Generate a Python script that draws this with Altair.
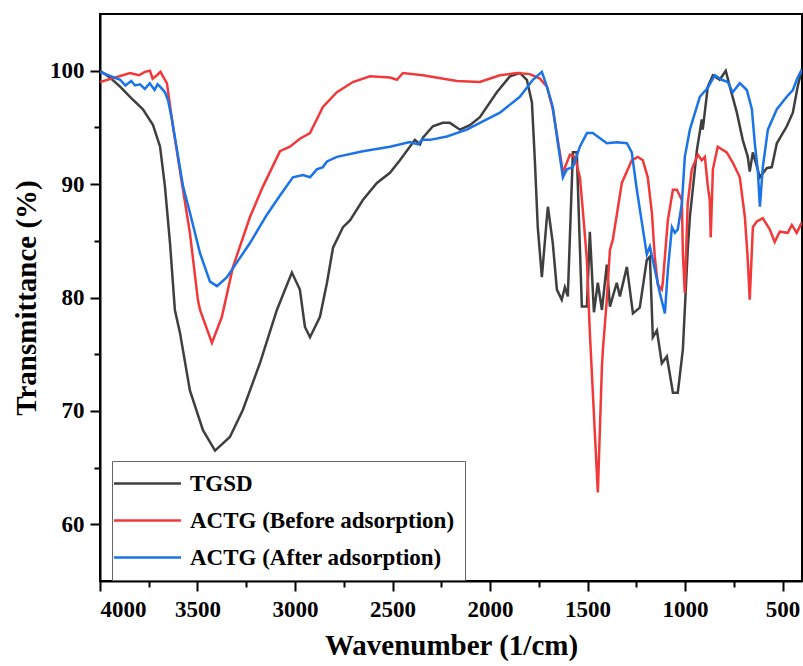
import altair as alt
import pandas as pd

series_names = ["TGSD", "ACTG (Before adsorption)", "ACTG (After adsorption)"]
series_colors = ["#3f3f3f", "#f2393a", "#1a73e8"]

tg_wn = [4000, 3949, 3897, 3846, 3780, 3728, 3692, 3667, 3641, 3616, 3590, 3539, 3472, 3410, 3334, 3267, 3180, 3093,
         3016, 2975, 2949, 2923, 2872, 2836, 2805, 2754, 2718, 2652, 2580, 2513, 2462, 2385, 2359, 2344, 2293, 2242,
         2206, 2154, 2103, 2052, 1965, 1898, 1847, 1811, 1785, 1770, 1755, 1734, 1708, 1703, 1678, 1657, 1632, 1616,
         1601, 1575, 1555, 1529, 1503, 1488, 1467, 1447, 1426, 1401, 1385, 1350, 1334, 1298, 1267, 1232, 1196, 1180,
         1165, 1144, 1119, 1093, 1062, 1037, 1011, 986, 975, 939, 914, 909, 883, 857, 822, 791, 770, 734, 704, 678,
         668, 652, 616, 581, 555, 529, 478, 447, 422, 401]
tg_t = [100.0, 99.4, 98.6, 97.7, 96.6, 95.2, 93.3, 89.8, 84.8, 78.9, 76.9, 71.8, 68.3, 66.5, 67.7, 70.1, 74.2, 78.9,
        82.2, 80.7, 77.4, 76.5, 78.3, 81.3, 84.4, 86.2, 86.8, 88.6, 90.1, 91.0, 92.1, 93.9, 93.5, 94.1, 95.1, 95.4,
        95.4, 94.8, 95.2, 95.9, 98.1, 99.5, 99.8, 99.2, 97.2, 92.1, 86.2, 81.8, 87.1, 88.0, 84.8, 80.7, 79.8, 80.9,
        80.1, 92.8, 92.8, 79.2, 79.2, 85.8, 78.7, 81.3, 78.9, 82.9, 79.2, 81.3, 80.1, 82.7, 78.6, 79.1, 83.3, 83.6,
        76.5, 77.1, 74.2, 74.8, 71.6, 71.6, 75.4, 84.2, 87.1, 93.0, 95.7, 94.8, 98.6, 99.6, 99.2, 100.0, 98.6, 96.3,
        93.9, 92.4, 91.1, 92.8, 90.6, 91.4, 91.5, 93.6, 95.1, 96.3, 98.6, 100.1]

rd_wn = [4000, 3846, 3800, 3770, 3744, 3730, 3708, 3690, 3677, 3657, 3626, 3580, 3539, 3498, 3487, 3426, 3375, 3318,
         3231, 3164, 3077, 3026, 2975, 2923, 2857, 2785, 2703, 2616, 2513, 2477, 2447, 2344, 2170, 2052, 1949, 1862,
         1796, 1744, 1708, 1678, 1642, 1626, 1590, 1565, 1539, 1524, 1503, 1488, 1447, 1426, 1421, 1401, 1385, 1370,
         1324, 1273, 1242, 1216, 1191, 1170, 1155, 1139, 1119, 1114, 1088, 1062, 1042, 1016, 1011, 1001, 986, 965,
         934, 914, 898, 883, 873, 868, 857, 832, 786, 755, 719, 693, 678, 668, 652, 632, 601, 565, 540, 514, 473,
         452, 427, 401]
rd_t = [99.0, 99.8, 99.6, 99.9, 100.0, 99.3, 99.6, 99.9, 99.5, 98.9, 95.1, 90.1, 85.7, 79.8, 78.9, 76.0, 78.3, 82.7,
        87.1, 89.8, 92.9, 93.3, 94.0, 94.5, 96.8, 98.1, 99.0, 99.5, 99.4, 99.2, 99.8, 99.6, 99.1, 99.0, 99.6, 99.8,
        99.7, 99.3, 98.6, 96.6, 92.8, 91.0, 92.6, 92.4, 90.6, 87.7, 83.3, 76.9, 62.8, 73.9, 75.4, 79.8, 84.2, 85.1,
        90.1, 92.1, 92.4, 92.1, 90.6, 87.5, 83.6, 81.1, 80.7, 81.3, 86.8, 89.5, 89.5, 88.6, 83.9, 80.4, 88.3, 91.3,
        92.6, 92.1, 92.4, 89.8, 88.6, 85.3, 91.3, 93.3, 92.8, 91.9, 90.6, 87.1, 83.3, 79.8, 86.2, 86.7, 87.0, 86.0,
        84.9, 85.8, 85.7, 86.4, 85.7, 86.6]

bl_wn = [4000, 3897, 3870, 3840, 3820, 3795, 3770, 3745, 3720, 3705, 3692, 3667, 3651, 3631, 3605, 3574, 3539, 3487,
         3436, 3400, 3349, 3298, 3231, 3144, 3077, 3011, 2959, 2923, 2888, 2857, 2836, 2785, 2652, 2513, 2411, 2370,
         2349, 2308, 2221, 2119, 2052, 1949, 1847, 1780, 1734, 1708, 1678, 1652, 1626, 1606, 1575, 1539, 1503, 1473,
         1401, 1350, 1298, 1273, 1247, 1221, 1196, 1180, 1165, 1129, 1103, 1088, 1067, 1052, 1037, 1016, 1001, 975,
         924, 883, 847, 811, 781, 755, 719, 683, 657, 642, 627, 616, 601, 575, 529, 478, 447, 422, 401]
bl_t = [99.9, 99.2, 98.7, 99.1, 98.7, 98.8, 98.4, 98.9, 98.3, 98.8, 98.6, 98.1, 97.4, 95.7, 93.0, 89.8, 87.5, 83.9,
        81.4, 81.0, 81.8, 83.1, 84.8, 87.3, 89.0, 90.6, 90.8, 90.6, 91.3, 91.5, 92.0, 92.4, 92.9, 93.3, 93.7, 93.5,
        93.9, 93.9, 94.2, 94.8, 95.4, 96.3, 97.7, 99.2, 99.9, 98.6, 96.8, 93.6, 90.6, 91.3, 91.5, 93.3, 94.5, 94.5,
        93.6, 93.7, 93.6, 92.8, 89.5, 86.6, 83.8, 84.5, 83.3, 80.4, 78.6, 82.4, 86.2, 85.7, 86.0, 88.3, 92.4, 94.8,
        97.7, 98.5, 99.6, 99.2, 99.0, 98.1, 98.9, 98.3, 96.6, 93.6, 91.3, 88.0, 91.5, 94.8, 96.6, 97.7, 98.3, 99.4,
        100.1]

x_major = [4000, 3500, 3000, 2500, 2000, 1500, 1000, 500]
x_minor = [3750, 3250, 2750, 2250, 1750, 1250, 750]
y_major = [60, 70, 80, 90, 100]
y_minor = [65, 75, 85, 95]

rows = []
for name, wns, ts in zip(series_names, [tg_wn, rd_wn, bl_wn], [tg_t, rd_t, bl_t]):
    for w, v in zip(wns, ts):
        rows.append({"wn": w, "T": v, "series": name})
df = pd.DataFrame(rows)

FONT = "Liberation Serif"
xscale = alt.Scale(domain=[4000, 400], nice=False, zero=False)
yscale = alt.Scale(domain=[55, 105], nice=False, zero=False)

lines = alt.Chart(df).mark_line(strokeWidth=2.5, clip=True).encode(
    x=alt.X("wn:Q", scale=xscale,
            axis=alt.Axis(values=x_major, title="Wavenumber (1/cm)", orient="bottom", tickSize=10,
                          labelPadding=7, titlePadding=10, format="d")),
    y=alt.Y("T:Q", scale=yscale,
            axis=alt.Axis(values=y_major, title="Transmittance (%)", orient="left", tickSize=10,
                          labelPadding=6, titlePadding=8, format="d")),
    color=alt.Color("series:N", sort=series_names,
                    scale=alt.Scale(domain=series_names, range=series_colors),
                    legend=alt.Legend(title=None, orient="none", legendX=12, legendY=447, direction="vertical",
                                      symbolType="M-3,0H3", symbolSize=500, symbolStrokeWidth=2.5,
                                      symbolOffset=13,
                                      labelFont=FONT, labelFontSize=23, labelFontWeight="bold",
                                      labelColor="black", labelLimit=0, labelOffset=30,
                                      strokeColor="#666666", fillColor="white", padding=10, rowPadding=12)),
)

minor = alt.Chart(df).mark_point(opacity=0).encode(
    x=alt.X("wn:Q", scale=xscale,
            axis=alt.Axis(values=x_minor, labels=False, title=None, orient="bottom", tickSize=6, domain=False)),
    y=alt.Y("T:Q", scale=yscale,
            axis=alt.Axis(values=y_minor, labels=False, title=None, orient="left", tickSize=6, domain=False)),
)

chart = alt.layer(lines, minor).resolve_axis(x="independent", y="independent").properties(
    width=702, height=567,
    autosize=alt.AutoSizeParams(type="none"),
    padding={"left": 100, "top": 14, "right": 1, "bottom": 85},
).configure_view(stroke="black", strokeWidth=2).configure_axis(
    grid=False, domainColor="black", domainWidth=2, tickColor="black", tickWidth=2,
    labelFont=FONT, labelFontSize=23, labelFontWeight="bold", labelColor="black",
    titleFont=FONT, titleFontSize=29, titleFontWeight="bold", titleColor="black",
)

chart.save("out.html", embed_options={"renderer": "svg", "actions": False})
